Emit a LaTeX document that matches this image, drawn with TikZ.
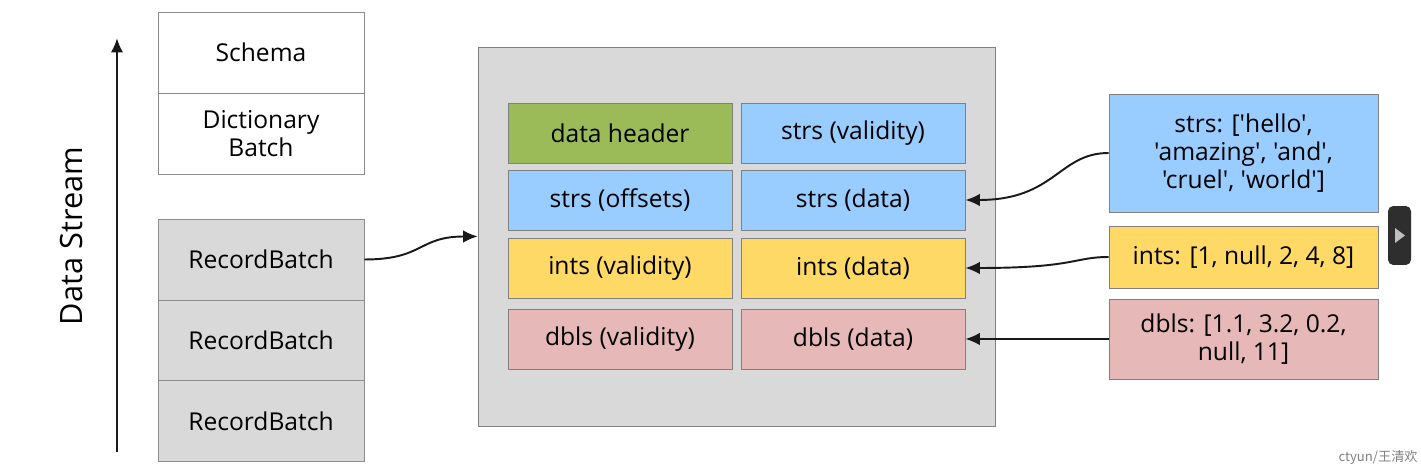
\documentclass[tikz,border=0pt]{standalone}
\usepackage{fontspec}
\setmainfont{Open Sans}[Ligatures=TeXOff]
\newfontfamily\cjkfont{Noto Sans CJK SC}
\usepackage{tikz}
\usetikzlibrary{arrows.meta, positioning}

\definecolor{boxgray}{HTML}{D9D9D9}
\definecolor{hdrgreen}{HTML}{9BBB59}
\definecolor{strblue}{HTML}{99CCFF}
\definecolor{intyellow}{HTML}{FFD966}
\definecolor{dblpink}{HTML}{E6B8B7}

\begin{document}
\begin{tikzpicture}[
  x=0.02cm, y=-0.02cm,
  block/.style={
    draw=black!45,
    fill=white,
    minimum width=4.12cm,
    minimum height=1.62cm,
    inner sep=0pt,
    align=center,
    font=\fontsize{14}{16}\selectfont
  },
  batch/.style={block, fill=boxgray},
  cell/.style={
    draw=black!50,
    minimum width=4.48cm,
    minimum height=1.2cm,
    inner sep=0pt,
    align=center,
    font=\fontsize{14}{16}\selectfont
  },
  column/.style={
    draw=black!50,
    minimum width=5.38cm,
    inner sep=0pt,
    align=center,
    font=\fontsize{14}{16}\selectfont
  },
  arrow/.style={-{Latex[length=2.9mm, width=2.5mm]}, line width=1.1pt, draw=black!90}
]
  \useasboundingbox (0,0) rectangle (1421,472);

  % stream on the left
  \coordinate (sbot) at (117,452);
  \coordinate (stop) at (117,38);
  \draw[arrow, line width=1.3pt] (sbot) -- (stop);
  \node[rotate=90, font=\fontsize{17.5}{19}\selectfont] (stream) at (72,236) {Data Stream};

  \node[block] (schema) at (261,52.5) {Schema};
  \node[block] (dict) at (261,133.5) {Dictionary\\Batch};
  \node[batch] (rb1) at (261,259.5) {RecordBatch};
  \node[batch] (rb2) at (261,340.5) {RecordBatch};
  \node[batch] (rb3) at (261,421) {RecordBatch};

  % record batch body
  \node[draw=black!50, fill=boxgray, minimum width=10.34cm, minimum height=7.58cm, inner sep=0pt]
    (body) at (736.5,236.5) {};

  \node[cell, fill=hdrgreen] (header) at (620,133) {data header};
  \node[cell, fill=strblue] (strsvalid) at (853,133) {strs (validity)};
  \node[cell, fill=strblue] (strsoff) at (620,200) {strs (offsets)};
  \node[cell, fill=strblue] (strsdata) at (853,200) {strs (data)};
  \node[cell, fill=intyellow] (intsvalid) at (620,268) {ints (validity)};
  \node[cell, fill=intyellow] (intsdata) at (853,268) {ints (data)};
  \node[cell, fill=dblpink] (dblsvalid) at (620,339) {dbls (validity)};
  \node[cell, fill=dblpink] (dblsdata) at (853,339) {dbls (data)};

  % columns on the right
  \node[column, fill=strblue, minimum height=2.36cm] (strscol) at (1243.5,153)
    {strs: ['hello',\\'amazing', 'and',\\'cruel', 'world']};
  \node[column, fill=intyellow, minimum height=1.24cm] (intscol) at (1243.5,257)
    {ints: [1, null, 2, 4, 8]};
  \node[column, fill=dblpink, minimum height=1.6cm] (dblscol) at (1243.5,339)
    {dbls: [1.1, 3.2, 0.2,\\null, 11]};

  \draw[arrow] (rb1.east) .. controls +(60,0) and +(-60,0) .. (body.west);
  \draw[arrow] (strscol.west) .. controls +(-50,0) and +(90,0) .. (strsdata.east);
  \draw[arrow] (intscol.west) .. controls +(-35,0) and +(110,0) .. (intsdata.east);
  \draw[arrow] (dblscol.west) -- (dblsdata.east);

  % player button and watermark
  \node[draw=none, fill=black!82, rounded corners=3pt, minimum width=0.46cm, minimum height=1.18cm]
    (play) at (1399.5,235.5) {};
  \fill[black!25] (1395,228) -- (1405,235.5) -- (1395,243) -- cycle;
  \node[anchor=east, text=black!50, inner sep=0pt, font=\cjkfont\fontsize{7.5}{9}\selectfont]
    (mark) at (1418,458) {ctyun/王清欢};
\end{tikzpicture}
\end{document}
